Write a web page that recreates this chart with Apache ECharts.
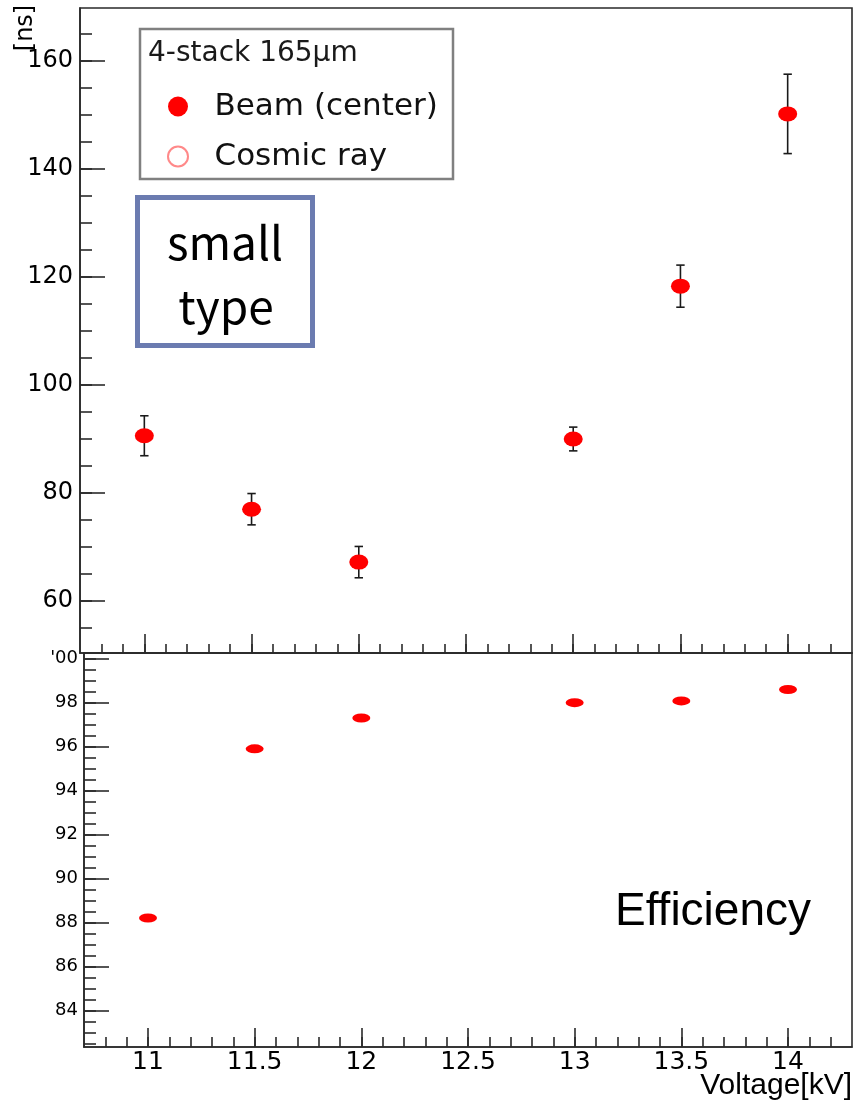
<!DOCTYPE html>
<html>
<head>
<meta charset="utf-8">
<script src="https://cdn.jsdelivr.net/npm/echarts@6/dist/echarts.min.js"></script>
<style>
  html, body { margin: 0; padding: 0; background: #ffffff; }
  #chart { width: 854px; height: 1100px; }
</style>
</head>
<body>
<div id="chart"></div>
<script>
// Measurements: 4-stack 165 µm chamber, beam at centre
const voltages = [11, 11.5, 12, 13, 13.5, 14];          // kV
const beamTime = [90.6, 77.0, 67.2, 90.0, 118.3, 150.2]; // ns
const beamTimeErr = [3.7, 2.9, 2.9, 2.2, 3.9, 7.35];     // ns
const beamEfficiency = [88.2, 95.9, 97.3, 98.0, 98.08, 98.6]; // %
const cosmicTime = [];                                    // no cosmic-ray points shown

// Tick labels
const voltageTicks = [11, 11.5, 12, 12.5, 13, 13.5, 14];
const timeTicks = [60, 80, 100, 120, 140, 160];
const efficiencyTicks = [84, 86, 88, 90, 92, 94, 96, 98, 100];

// Minor tick positions (evenly stepped between major ticks)
function steps(a, b, s) {
  const out = [];
  const n = Math.round((b - a) / s);
  for (let i = 0; i <= n; i++) out.push(+(a + i * s).toFixed(4));
  return out;
}
const voltageMinor = steps(10.8, 14.2, 0.1);
const timeMinor = steps(55, 165, 5);
const efficiencyMinor = steps(82.5, 100, 0.5);

const AXIS_COLOR = '#2a2a2a';
const LABEL_FONT = 'DejaVu Sans';

const lineStyle = { color: AXIS_COLOR, width: 1.6 };

function majorAxis(extra) {
  return Object.assign({
    type: 'value',
    axisLine: { show: true, lineStyle: lineStyle },
    axisTick: { show: true, inside: true, lineStyle: lineStyle },
    splitLine: { show: false },
    axisLabel: { show: false }
  }, extra);
}
function minorAxis(extra) {
  return Object.assign({
    type: 'value',
    axisLine: { show: false },
    axisLabel: { show: false },
    splitLine: { show: false }
  }, extra);
}

const chart = echarts.init(document.getElementById('chart'), null, { renderer: 'canvas' });

const option = {
  backgroundColor: '#ffffff',
  animation: false,
  grid: [
    { left: 80, right: 2, top: 8, height: 645, show: true, borderColor: AXIS_COLOR, borderWidth: 1.6,
      backgroundColor: 'transparent', containLabel: false, outerBoundsMode: 'none' },
    { left: 84, right: 2, top: 653, height: 394, show: true, borderColor: AXIS_COLOR, borderWidth: 1.6,
      backgroundColor: 'transparent', containLabel: false, outerBoundsMode: 'none' }
  ],
  xAxis: [
    majorAxis({ gridIndex: 0, position: 'bottom', min: 10.7, max: 14.3,
      axisTick: { show: true, inside: true, length: 19, lineStyle: lineStyle, customValues: voltageTicks },
      axisLabel: { show: false, customValues: voltageTicks } }),
    minorAxis({ gridIndex: 0, position: 'bottom', min: 10.7, max: 14.3,
      axisTick: { show: true, inside: true, length: 9, lineStyle: lineStyle, customValues: voltageMinor } }),
    majorAxis({ gridIndex: 1, position: 'bottom', min: 10.7, max: 14.3,
      axisTick: { show: true, inside: true, length: 19, lineStyle: lineStyle, customValues: voltageTicks },
      axisLabel: { show: true, customValues: voltageTicks, margin: 3, color: '#000',
        fontFamily: LABEL_FONT, fontSize: 25 } }),
    minorAxis({ gridIndex: 1, position: 'bottom', min: 10.7, max: 14.3,
      axisTick: { show: true, inside: true, length: 10, lineStyle: lineStyle, customValues: voltageMinor } })
  ],
  yAxis: [
    majorAxis({ gridIndex: 0, position: 'left', min: 50.37, max: 169.81,
      axisTick: { show: true, inside: true, length: 25, lineStyle: lineStyle, customValues: timeTicks },
      axisLabel: { show: true, customValues: timeTicks, margin: 7, color: '#000',
        fontFamily: LABEL_FONT, fontSize: 24 } }),
    minorAxis({ gridIndex: 0, position: 'left', min: 50.37, max: 169.81,
      axisTick: { show: true, inside: true, length: 12, lineStyle: lineStyle, customValues: timeMinor } }),
    majorAxis({ gridIndex: 1, position: 'left', min: 82.33, max: 100.26,
      axisTick: { show: true, inside: true, length: 25, lineStyle: lineStyle, customValues: efficiencyTicks },
      axisLabel: { show: true, customValues: efficiencyTicks, margin: 6, color: '#000',
        fontFamily: LABEL_FONT, fontSize: 18,
        formatter: function (v) { return v === 100 ? "'00" : String(v); } } }),
    minorAxis({ gridIndex: 1, position: 'left', min: 82.33, max: 100.26,
      axisTick: { show: true, inside: true, length: 12, lineStyle: lineStyle, customValues: efficiencyMinor } })
  ],
  legend: {
    orient: 'vertical',
    left: 162,
    top: 86,
    itemWidth: 63,
    itemHeight: 20,
    itemGap: 19,
    selectedMode: false,
    textStyle: { fontFamily: LABEL_FONT, fontSize: 31, color: '#111', lineHeight: 31 },
    data: [
      { name: 'Beam (center)', icon: 'circle', itemStyle: { color: '#ff0000' } },
      { name: 'Cosmic ray', icon: 'circle',
        itemStyle: { color: '#ffffff', borderColor: '#ff6b6b', borderWidth: 2 } }
    ]
  },
  series: [
    {
      name: 'Beam (center) time error',
      type: 'custom',
      xAxisIndex: 0,
      yAxisIndex: 0,
      z: 3,
      data: voltages.map((v, i) => [v, beamTime[i] - beamTimeErr[i], beamTime[i] + beamTimeErr[i]]),
      encode: { x: 0, y: [1, 2] },
      renderItem: function (params, api) {
        const lo = api.coord([api.value(0), api.value(1)]);
        const hi = api.coord([api.value(0), api.value(2)]);
        const cap = 4.2;
        const st = { stroke: '#1a1a1a', lineWidth: 1.6 };
        return {
          type: 'group',
          children: [
            { type: 'line', shape: { x1: lo[0], y1: lo[1], x2: hi[0], y2: hi[1] }, style: st },
            { type: 'line', shape: { x1: lo[0] - cap, y1: lo[1], x2: lo[0] + cap, y2: lo[1] }, style: st },
            { type: 'line', shape: { x1: hi[0] - cap, y1: hi[1], x2: hi[0] + cap, y2: hi[1] }, style: st }
          ]
        };
      }
    },
    {
      name: 'Beam (center)',
      type: 'scatter',
      xAxisIndex: 0,
      yAxisIndex: 0,
      z: 5,
      symbol: 'circle',
      symbolSize: [19, 15],
      itemStyle: { color: '#ff0000', opacity: 1 },
      data: voltages.map((v, i) => [v, beamTime[i]])
    },
    {
      name: 'Cosmic ray',
      type: 'scatter',
      xAxisIndex: 0,
      yAxisIndex: 0,
      symbol: 'circle',
      symbolSize: 18,
      itemStyle: { color: '#ffffff', borderColor: '#ff6b6b', borderWidth: 2 },
      data: cosmicTime
    },
    {
      name: 'Beam (center) efficiency',
      type: 'scatter',
      xAxisIndex: 2,
      yAxisIndex: 2,
      z: 5,
      symbol: 'circle',
      symbolSize: [18, 9],
      itemStyle: { color: '#ff0000', opacity: 1 },
      data: voltages.map((v, i) => [v, beamEfficiency[i]])
    }
  ],
  graphic: [
    // legend frame and header
    { type: 'rect', z: 1, shape: { x: 140, y: 29, width: 313, height: 150 },
      style: { fill: '#ffffff', stroke: '#808080', lineWidth: 2.5 } },
    { type: 'text', z: 3, x: 148, y: 54,
      style: { text: '4-stack 165µm', fontFamily: LABEL_FONT, fontSize: 28, fill: '#1a1a1a',
        align: 'left', verticalAlign: 'middle' } },
    // y axis unit of the time panel
    { type: 'text', z: 3, x: 26, y: 28, rotation: Math.PI / 2,
      style: { text: '[ns]', fontFamily: LABEL_FONT, fontSize: 24, fill: '#000',
        align: 'center', verticalAlign: 'middle' } },
    // x axis title under the lower panel
    { type: 'text', z: 3, x: 852, y: 1086,
      style: { text: 'Voltage[kV]', fontFamily: 'Liberation Sans', fontSize: 30, fill: '#000',
        align: 'right', verticalAlign: 'middle' } },
    // annotation box
    { type: 'rect', z: 10, shape: { x: 137.5, y: 197.5, width: 175, height: 148 },
      style: { fill: '#ffffff', stroke: '#6b7bb0', lineWidth: 5 } },
    { type: 'text', z: 11, x: 225, y: 243,
      style: { text: 'small', fontFamily: 'Noto Sans CJK JP', fontSize: 46, fill: '#000',
        align: 'center', verticalAlign: 'middle' } },
    { type: 'text', z: 11, x: 226, y: 307,
      style: { text: 'type', fontFamily: 'Noto Sans CJK JP', fontSize: 46, fill: '#000',
        align: 'center', verticalAlign: 'middle' } },
    // panel title of the lower panel
    { type: 'text', z: 3, x: 713, y: 912,
      style: { text: 'Efficiency', fontFamily: 'Liberation Sans', fontSize: 46, fill: '#000',
        align: 'center', verticalAlign: 'middle' } }
  ]
};

chart.setOption(option);
</script>
</body>
</html>
